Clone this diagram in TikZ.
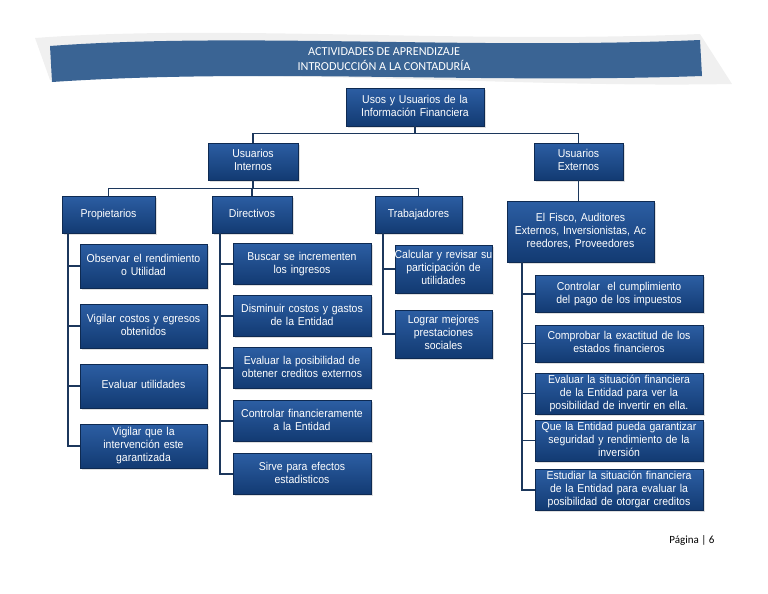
\documentclass[tikz,border=0pt]{standalone}
\usepackage{fontspec}
\setmainfont{Liberation Sans}[FakeStretch=0.92]
\newfontfamily\titlefont{Carlito}
\usetikzlibrary{positioning,shadows}
\definecolor{boxtop}{HTML}{2C5EA3}
\definecolor{boxbot}{HTML}{123A72}
\definecolor{boxline}{HTML}{0E2A52}
\definecolor{linkc}{HTML}{1C375C}
\definecolor{bannerc}{HTML}{3A6494}
\newcommand{\boxfont}{\fontsize{11.4}{13}\selectfont}
\newcommand{\wide}[1]{\makebox[\linewidth][c]{#1}}

\begin{document}
\begin{tikzpicture}[x=1pt,y=-1pt,
  box/.style={draw=boxline, line width=0.8pt, top color=boxtop, bottom color=boxbot,
    text=white, align=center, inner sep=1pt, font=\boxfont,
    execute at begin node=\strut, execute at end node=\strut,
    drop shadow={opacity=0.25, shadow xshift=1.5pt, shadow yshift=-1.5pt}},
  pbox/.style={box, text width=125pt, minimum height=44pt},
  dbox/.style={box, text width=136pt, minimum height=41pt},
  tbox/.style={box, text width=95pt, minimum height=48pt},
  ebox/.style={box, text width=166pt, minimum height=37pt},
  link/.style={draw=linkc, line width=1.8pt}]
\useasboundingbox (0,0) rectangle (768,594);
\fill[gray!12] (35,38) .. controls (220,24) and (460,44) .. (700,34) -- (732,84) .. controls (520,88) and (300,68) .. (50,80) -- cycle;
\fill[bannerc] (50,46) .. controls (240,32) and (470,50) .. (700,40) -- (702,76) .. controls (480,84) and (260,68) .. (52,82) -- cycle;
\node[font=\titlefont\fontsize{12.2}{15}\selectfont, text=white, align=center] (title) at (384,59.5) {ACTIVIDADES DE APRENDIZAJE\\INTRODUCCIÓN A LA CONTADURÍA};
\node[font=\titlefont\fontsize{11}{13}\selectfont] (pag) at (692,540) {Página | 6};

\node[box, text width=136pt, minimum height=38pt] (root) at (415,107) {Usos y Usuarios de la\\Información Financiera};
\node[box, text width=88pt, minimum height=37pt] (int) at (253,161.5) {Usuarios\\Internos};
\node[box, text width=87pt, minimum height=37pt] (ext) at (578.5,161.5) {Usuarios\\Externos};
\node[box, text width=91pt, minimum height=37pt] (prop) at (108.5,214.5) {Propietarios};
\node[box, text width=78pt, minimum height=37pt] (dir) at (252,214.5) {Directivos};
\node[box, text width=85pt, minimum height=37pt] (trab) at (418.5,214.5) {Trabajadores};
\node[box, text width=145pt, minimum height=61pt] (fisco) at (580.5,231.5) {El Fisco, Auditores\\\wide{Externos, Inversionistas, Ac}\\reedores, Proveedores};

\node[pbox] (p1) at (143.5,266) {\wide{Observar el rendimiento}\\o Utilidad};
\node[pbox] (p2) at (143.5,326) {\wide{Vigilar costos y egresos}\\obtenidos};
\node[pbox] (p3) at (143.5,386) {Evaluar utilidades};
\node[pbox] (p4) at (143.5,446) {Vigilar que la\\intervención este\\garantizada};

\node[dbox] (d1) at (302,264) {Buscar se incrementen\\los ingresos};
\node[dbox] (d2) at (302,316) {\wide{Disminuir costos y gastos}\\de la Entidad};
\node[dbox] (d3) at (302,368) {\wide{Evaluar la posibilidad de}\\\wide{obtener creditos externos}};
\node[dbox] (d4) at (302,421) {\wide{Controlar financieramente}\\a la Entidad};
\node[dbox] (d5) at (302,474) {Sirve para efectos\\estadisticos};

\node[tbox] (t1) at (443.5,269) {\wide{Calcular y revisar su}\\participación de\\utilidades};
\node[tbox] (t2) at (443.5,334) {Lograr mejores\\prestaciones\\sociales};

\node[ebox] (e1) at (619,294) {Controlar \ el cumplimiento\\del pago de los impuestos};
\node[ebox] (e2) at (619,343.5) {\wide{Comprobar la exactitud de los}\\estados financieros};
\node[ebox] (e3) at (619,393.5) {\wide{Evaluar la situación financiera}\\de la Entidad para ver la\\\wide{posibilidad de invertir en ella.}};
\node[ebox] (e4) at (619,440.5) {\wide{Que la Entidad pueda garantizar}\\\wide{seguridad y rendimiento de la}\\inversión};
\node[ebox] (e5) at (619,490) {\wide{Estudiar la situación financiera}\\\wide{de la Entidad para evaluar la}\\\wide{posibilidad de otorgar creditos}};

\foreach \c in {int,ext} \draw[link] (root.south) -- ++(0,7) -| (\c.north);
\foreach \c in {prop,dir,trab} \draw[link] (int.south) -- ++(0,8) -| (\c.north);
\draw[link] (ext.south) -- (ext.south |- fisco.north);
\foreach \c in {p1,p2,p3,p4} \draw[link] ([xshift=6pt]prop.south west) |- (\c.west);
\foreach \c in {d1,d2,d3,d4,d5} \draw[link] ([xshift=8pt]dir.south west) |- (\c.west);
\foreach \c in {t1,t2} \draw[link] ([xshift=8pt]trab.south west) |- (\c.west);
\foreach \c in {e1,e2,e3,e4,e5} \draw[link] ([xshift=15pt]fisco.south west) |- (\c.west);
\end{tikzpicture}
\end{document}
